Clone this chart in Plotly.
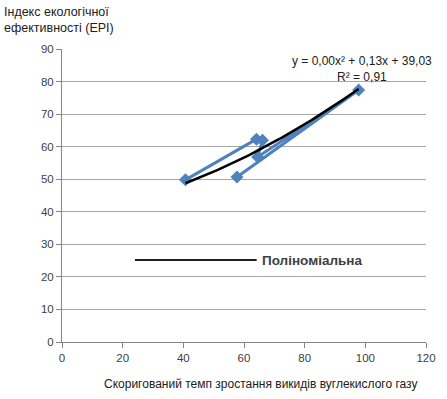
import numpy as np
import plotly.graph_objects as go

# Adjusted CO2 emission growth rate vs. Environmental Performance Index
x_vals = [40.7, 64.1, 66.1, 64.5, 97.8, 57.7]
y_vals = [49.8, 62.3, 62.0, 56.8, 77.4, 50.7]

x_ticks = [0, 20, 40, 60, 80, 100, 120]
y_ticks = [0, 10, 20, 30, 40, 50, 60, 70, 80, 90]

equation_text = "y = 0,00x² + 0,13x + 39,03<br>R² = 0,91"
legend_text = "Поліноміальна"
y_title = "Індекс екологічної<br>ефективності (EPI)"
x_title = "Скоригований темп зростання викидів вуглекислого газу"

FONT = "Liberation Sans"
BLUE = "#4f81bd"
GRAY_TXT = "#404040"

W, H = 447, 399
ML, MR, MT, MB = 62, 11, 49, 57
plot_w = W - ML - MR
plot_h = H - MT - MB

# second-order polynomial trend over the data range
coef = np.polyfit(x_vals, y_vals, 2)
x_fit = np.linspace(min(x_vals), max(x_vals), 60)
y_fit = np.polyval(coef, x_fit)

fig = go.Figure()
fig.add_trace(go.Scatter(
    x=x_vals, y=y_vals, mode="lines+markers",
    line=dict(color=BLUE, width=3),
    marker=dict(symbol="diamond", size=10, color=BLUE),
    showlegend=False, cliponaxis=False,
))
fig.add_trace(go.Scatter(
    x=x_fit, y=y_fit, mode="lines",
    line=dict(color="black", width=2.5),
    showlegend=False,
))

axis_common = dict(
    showline=True, linecolor="#868686", linewidth=1,
    ticks="outside", ticklen=5, tickcolor="#868686",
    tickfont=dict(family=FONT, size=11.5, color=GRAY_TXT),
    zeroline=False,
)
fig.update_xaxes(range=[0, 120], tickvals=x_ticks, showgrid=False, **axis_common)
fig.update_yaxes(range=[0, 90], tickvals=y_ticks, showgrid=True,
                 gridcolor="#a6a6a6", gridwidth=1, **axis_common)

def px_x(p):
    return (p - ML) / plot_w

def px_y(p):
    return (H - MB - p) / plot_h

# trendline equation
fig.add_annotation(
    x=px_x(370), y=px_y(52), xref="paper", yref="paper", text=equation_text,
    showarrow=False, align="center", xanchor="center", yanchor="top",
    font=dict(family=FONT, size=12, color="#202020"),
)

# legend entry for the polynomial trend
fig.add_shape(type="line", xref="paper", yref="paper",
              x0=px_x(137), x1=px_x(262), y0=px_y(260), y1=px_y(260),
              line=dict(color="#202020", width=2))
fig.add_annotation(
    x=px_x(265), y=px_y(260), xref="paper", yref="paper", text=legend_text,
    showarrow=False, xanchor="left", yanchor="middle",
    font=dict(family=FONT, size=13.5, color="#404040", weight="bold"),
)

# axis titles
fig.add_annotation(
    x=px_x(0), y=px_y(3), xref="paper", yref="paper", text=y_title,
    showarrow=False, xanchor="left", yanchor="top", align="left",
    font=dict(family=FONT, size=12.5, color="#202020"),
)
fig.add_annotation(
    x=px_x(266), y=px_y(375), xref="paper", yref="paper", text=x_title,
    showarrow=False, xanchor="center", yanchor="top",
    font=dict(family=FONT, size=12, color="#202020"),
)

fig.update_layout(
    width=W, height=H,
    margin=dict(l=ML, r=MR, t=MT, b=MB),
    paper_bgcolor="white", plot_bgcolor="white",
    showlegend=False,
)

fig.write_html("out.html")
